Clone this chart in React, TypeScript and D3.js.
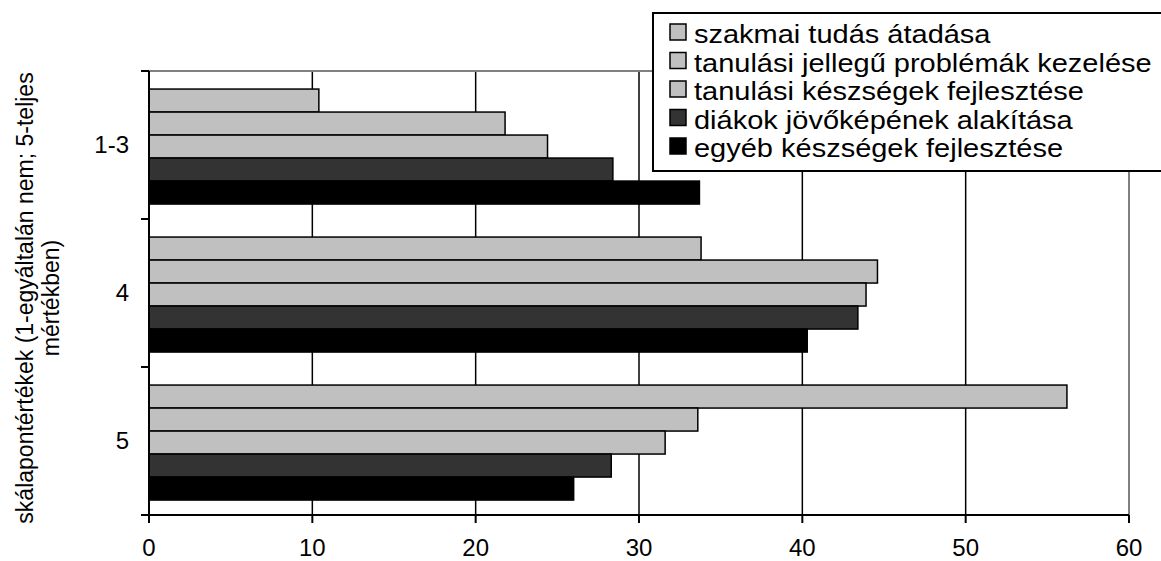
import React from 'react';
import * as d3 from 'd3';

const categories = ['1-3', '4', '5'];
const seriesNames = [
  'szakmai tudás átadása',
  'tanulási jellegű problémák kezelése',
  'tanulási készségek fejlesztése',
  'diákok jövőképének alakítása',
  'egyéb készségek fejlesztése',
];
const seriesColors = ['#C0C0C0', '#C0C0C0', '#C0C0C0', '#333333', '#000000'];
const szakmaiTudas = [10.4, 33.8, 56.2];
const tanulasiProblemak = [21.8, 44.6, 33.6];
const tanulasiKeszsegek = [24.4, 43.9, 31.6];
const diakokJovokep = [28.4, 43.4, 28.3];
const egyebKeszsegek = [33.7, 40.3, 26.0];
const seriesValues = [szakmaiTudas, tanulasiProblemak, tanulasiKeszsegek, diakokJovokep, egyebKeszsegek];
const xTicks = [0, 10, 20, 30, 40, 50, 60];
const yTitleLines = ['skálapontértékek (1-egyáltalán nem; 5-teljes', 'mértékben)'];

const W = 1161;
const H = 561;
const FONT = '"Liberation Sans", Arial, sans-serif';

export default function App() {
  const left = 149, right = 1129, top = 71, bottom = 515;
  const x = d3.scaleLinear().domain([0, 60]).range([left, right]);
  const y = d3.scaleBand<string>().domain(categories).range([top, bottom]);
  const bw = y.bandwidth();
  const inner = d3.scaleBand<string>().domain(seriesNames).range([bw * 0.122, bw * 0.899]);

  const legendX = 653, legendY = 13, rowH = 28.5;

  return (
    <svg width={W} height={H} style={{ position: 'absolute', left: 0, top: 0, background: '#fff' }} fontFamily={FONT}>
      <rect x={0} y={0} width={W} height={H} fill="#fff" />
      {/* gridlines */}
      {xTicks.filter(t => t > 0 && t < 60).map(t => (
        <line key={'g' + t} x1={x(t)} x2={x(t)} y1={top} y2={bottom} stroke="#000" strokeWidth={1.5} />
      ))}
      {/* plot border top/right gray */}
      <line x1={left} x2={right} y1={top} y2={top} stroke="#808080" strokeWidth={2} />
      <line x1={right} x2={right} y1={top} y2={bottom} stroke="#808080" strokeWidth={2} />
      {/* bars */}
      {categories.map((c, ci) => (
        <g key={c}>
          {seriesNames.map((s, si) => (
            <rect
              key={s}
              x={x(0)}
              y={(y(c) as number) + (inner(s) as number)}
              width={x(seriesValues[si][ci]) - x(0)}
              height={inner.bandwidth()}
              fill={seriesColors[si]}
              stroke="#000"
              strokeWidth={1.5}
            />
          ))}
        </g>
      ))}
      {/* axes */}
      <line x1={left} x2={left} y1={top} y2={bottom} stroke="#000" strokeWidth={2} />
      <line x1={left - 8} x2={right} y1={bottom} y2={bottom} stroke="#000" strokeWidth={2} />
      {[top, ...categories.map(c => (y(c) as number) + bw)].map((v, i) => (
        <line key={'yt' + i} x1={left - 8} x2={left} y1={v} y2={v} stroke="#000" strokeWidth={2} />
      ))}
      {xTicks.map(t => (
        <g key={'xt' + t}>
          <line x1={x(t)} x2={x(t)} y1={bottom} y2={bottom + 8} stroke="#000" strokeWidth={2} />
          <text x={x(t)} y={556} textAnchor="middle" fontSize={24} fill="#000">{t}</text>
        </g>
      ))}
      {categories.map(c => (
        <text key={'yl' + c} x={129} y={(y(c) as number) + bw / 2 + 8} textAnchor="end" fontSize={24} fill="#000">{c}</text>
      ))}
      {/* y title */}
      <g transform="translate(33,298) rotate(-90)">
        <text x={0} y={0} textAnchor="middle" fontSize={23} fill="#000">{yTitleLines[0]}</text>
        <text x={0} y={26} textAnchor="middle" fontSize={23} fill="#000">{yTitleLines[1]}</text>
      </g>
      {/* legend */}
      <rect x={legendX} y={legendY} width={W - legendX + 10} height={158} fill="#fff" stroke="#000" strokeWidth={2} />
      {seriesNames.map((s, i) => (
        <g key={'lg' + s}>
          <rect x={670} y={legendY + 11 + i * rowH} width={16} height={16} fill={seriesColors[i]} stroke="#000" strokeWidth={1.5} />
          <g transform={`translate(694,${legendY + 30 + i * rowH}) scale(1.16,1)`}>
            <text x={0} y={0} fontSize={25} fill="#000">{s}</text>
          </g>
        </g>
      ))}
    </svg>
  );
}
